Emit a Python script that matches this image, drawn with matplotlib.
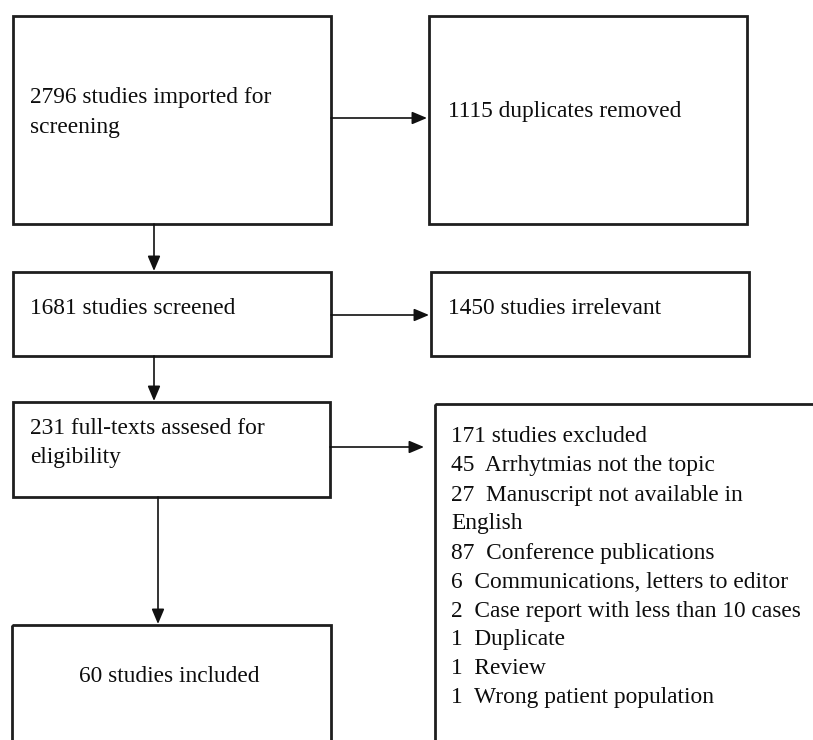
import matplotlib.pyplot as plt
from matplotlib.patches import Rectangle

# flow chart texts
imported_text = ['2796 studies imported for', 'screening']
duplicates_text = ['1115 duplicates removed']
screened_text = ['1681 studies screened']
irrelevant_text = ['1450 studies irrelevant']
fulltext_text = ['231 full-texts assesed for', 'eligibility']
included_text = ['60 studies included']
excluded_text = [
    '171 studies excluded',
    '45  Arrhytmias not the topic',
    '27  Manuscript not available in',
    'English',
    '87  Conference publications',
    '6  Communications, letters to editor',
    '2  Case report with less than 10 cases',
    '1  Duplicate',
    '1  Review',
    '1  Wrong patient population',
]

W, H = 813, 740
FONT = 'Liberation Serif'
FS = 16.8
LINE = 29
EDGE = '#1e1e1e'

fig = plt.figure(figsize=(W / 100, H / 100), dpi=100)
ax = fig.add_axes([0, 0, 1, 1])
ax.set_xlim(0, W)
ax.set_ylim(H, 0)
ax.axis('off')


def box(x0, y0, x1, y1):
    ax.add_patch(Rectangle((x0, y0), x1 - x0, y1 - y0, fill=False,
                           edgecolor=EDGE, linewidth=2.0, clip_on=True))


def lines(x, y, texts, ha='left'):
    for i, t in enumerate(texts):
        ax.text(x, y + i * LINE, t, fontsize=FS, family=FONT,
                ha=ha, va='center', color='#0d0d0d')


def arrow(x0, y0, x1, y1):
    ax.annotate('', xy=(x1, y1), xytext=(x0, y0),
                arrowprops=dict(arrowstyle='-|>,head_length=0.9,head_width=0.38',
                                color='#111111', lw=1.2, shrinkA=0, shrinkB=0))


# boxes
box(13, 16, 331, 224)
box(429, 16, 747, 224)
box(13, 272, 331, 356)
box(431, 272, 749, 356)
box(13, 402, 330, 497)
box(12, 625, 331, 760)
box(435, 404, 830, 760)

# arrows
arrow(331, 118, 427, 118)
arrow(154, 224, 154, 271)
arrow(331, 315, 429, 315)
arrow(154, 356, 154, 401)
arrow(330, 447, 424, 447)
arrow(158, 497, 158, 624)

# texts
lines(30, 98, imported_text)
lines(448, 111, duplicates_text)
lines(30, 309, screened_text)
lines(448, 309, irrelevant_text)
lines(30, 428, fulltext_text)
lines(169, 677, included_text, ha='center')
lines(451, 437, excluded_text)

fig.savefig('out.png', dpi=100)
